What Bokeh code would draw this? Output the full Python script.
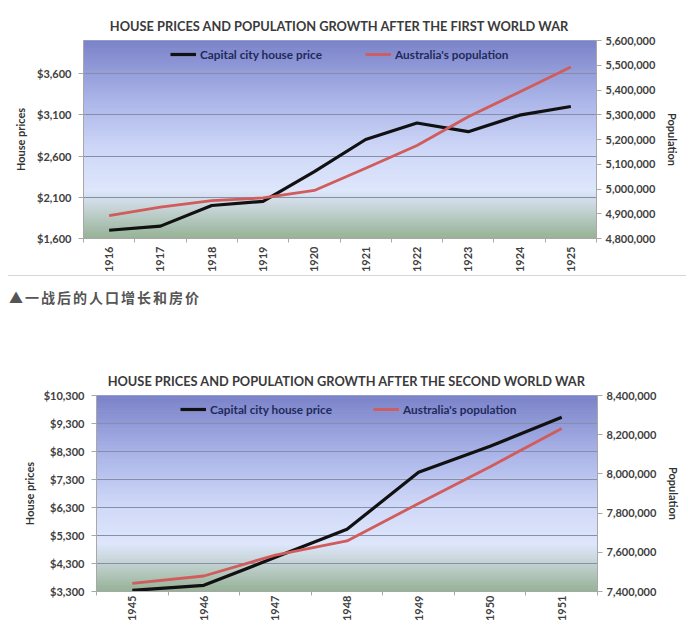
from bokeh.plotting import figure
from bokeh.models import (Range1d, LinearAxis, FixedTicker, NumeralTickFormatter,
                          Legend, LegendItem, Div)
from bokeh.layouts import column
from bokeh.embed import file_html
from bokeh.resources import INLINE

# ---------------- data ----------------
years_ww1 = [1916, 1917, 1918, 1919, 1920, 1921, 1922, 1923, 1924, 1925]
price_ww1 = [1700, 1750, 2000, 2050, 2410, 2800, 3000, 2895, 3095, 3200]
pop_ww1 = [4892000, 4927000, 4953000, 4964000, 4994000, 5084000, 5176000, 5292000, 5392000, 5493000]

years_ww2 = [1945, 1946, 1947, 1948, 1949, 1950, 1951]
price_ww2 = [3340, 3520, 4520, 5520, 7560, 8490, 9520]
pop_ww2 = [7441000, 7479000, 7586000, 7658000, 7849000, 8037000, 8232000]

price_ticks_ww1 = [1600, 2100, 2600, 3100, 3600]
pop_ticks_ww1 = [4800000, 4900000, 5000000, 5100000, 5200000, 5300000, 5400000, 5500000, 5600000]
price_ticks_ww2 = [3300, 4300, 5300, 6300, 7300, 8300, 9300, 10300]
pop_ticks_ww2 = [7400000, 7600000, 7800000, 8000000, 8200000, 8400000]

title_ww1 = "HOUSE PRICES AND POPULATION GROWTH AFTER THE FIRST WORLD WAR"
title_ww2 = "HOUSE PRICES AND POPULATION GROWTH AFTER THE SECOND WORLD WAR"
caption = "▲一战后的人口增长和房价"
label_price = "Capital city house price"
label_pop = "Australia's population"

FONT = "Lato"
TXT = "#404040"

STOPS = [(0.0, (122, 130, 200)), (0.30, (170, 180, 232)), (0.55, (206, 215, 247)),
         (0.76, (222, 230, 251)), (0.85, (198, 212, 214)), (1.0, (150, 178, 150))]


def grad_color(t):
    for (t0, c0), (t1, c1) in zip(STOPS[:-1], STOPS[1:]):
        if t <= t1:
            f = (t - t0) / (t1 - t0) if t1 > t0 else 0
            c = [int(round(a + (b - a) * f)) for a, b in zip(c0, c1)]
            return "#%02x%02x%02x" % tuple(c)
    return "#%02x%02x%02x" % STOPS[-1][1]


def make_chart(title, years, price, pop, price_ticks, pop_ticks, y_lo, y_hi, p_lo, p_hi,
               height, b_left, b_right, b_top, b_bottom, title_offset, leg1_x, leg2_x,
               left_label_standoff, x_standoff):
    x_lo, x_hi = years[0] - 0.5, years[-1] + 0.5
    p = figure(width=696, height=height, x_range=Range1d(x_lo, x_hi),
               y_range=Range1d(y_lo, y_hi), output_backend="svg", toolbar_location=None,
               min_border_left=b_left, min_border_right=b_right, min_border_top=b_top,
               min_border_bottom=b_bottom, x_axis_location=None, y_axis_location=None)
    p.frame_align = False
    p.title.text = title
    p.title.align = "center"
    p.title.text_font = FONT
    p.title.text_font_size = "12.8px"
    p.title.text_font_style = "bold"
    p.title.text_color = "#3a3a3a"
    p.title.offset = title_offset
    p.title.standoff = 14
    p.outline_line_color = "#c4c6d0"
    p.background_fill_color = "white"
    p.border_fill_color = "white"

    # background gradient
    n = 120
    span = y_hi - y_lo
    tops = [y_hi - i / n * span for i in range(n)]
    bots = [y_hi - (i + 1) / n * span for i in range(n)]
    cols = [grad_color((i + 0.5) / n) for i in range(n)]
    p.quad(left=x_lo, right=x_hi, top=tops, bottom=bots, fill_color=cols, line_color=cols,
           line_width=1, level="underlay")

    # grid
    p.xgrid.visible = False
    p.ygrid.ticker = FixedTicker(ticks=price_ticks)
    p.ygrid.grid_line_color = "#8590a8"
    p.ygrid.grid_line_width = 1

    # axes
    bounds = [y - 0.5 for y in years] + [years[-1] + 0.5]
    xax = LinearAxis(ticker=FixedTicker(ticks=years, minor_ticks=bounds))
    xax.major_label_overrides = {y: str(y) for y in years}
    xax.major_label_orientation = 1.5708
    xax.major_tick_out = 0
    xax.major_tick_in = 0
    xax.minor_tick_out = 4
    xax.minor_tick_in = 0
    xax.minor_tick_line_color = "#a8a8a8"
    xax.axis_line_color = "#a8a8a8"
    xax.major_label_standoff = x_standoff
    xax.major_label_text_font = FONT
    xax.major_label_text_font_style = "bold"
    xax.major_label_text_font_size = "11px"
    xax.major_label_text_color = TXT
    p.add_layout(xax, "below")

    lax = LinearAxis(ticker=FixedTicker(ticks=price_ticks),
                     formatter=NumeralTickFormatter(format="$0,0"))
    lax.axis_label = "House prices"
    lax.axis_label_text_font = FONT
    lax.axis_label_text_font_style = "bold"
    lax.axis_label_text_font_size = "11px"
    lax.axis_label_text_color = "#333333"
    lax.axis_label_standoff = left_label_standoff
    lax.major_tick_out = 5
    lax.major_tick_in = 0
    lax.minor_tick_out = 0
    lax.minor_tick_in = 0
    lax.major_tick_line_color = "#a8a8a8"
    lax.axis_line_color = "#a8a8a8"
    lax.major_label_standoff = 7
    lax.major_label_text_font = FONT
    lax.major_label_text_font_style = "bold"
    lax.major_label_text_font_size = "11px"
    lax.major_label_text_color = TXT
    p.add_layout(lax, "left")

    p.extra_y_ranges = {"pop": Range1d(p_lo, p_hi)}
    rax = LinearAxis(y_range_name="pop", ticker=FixedTicker(ticks=pop_ticks),
                     formatter=NumeralTickFormatter(format="0,0"))
    rax.axis_label = "Population"
    rax.axis_label_text_font = FONT
    rax.axis_label_text_font_style = "bold"
    rax.axis_label_text_font_size = "11px"
    rax.axis_label_text_color = "#333333"
    rax.axis_label_standoff = 8
    rax.major_tick_out = 5
    rax.major_tick_in = 0
    rax.minor_tick_out = 0
    rax.minor_tick_in = 0
    rax.major_tick_line_color = "#a8a8a8"
    rax.axis_line_color = "#a8a8a8"
    rax.major_label_standoff = 4
    rax.major_label_text_font = FONT
    rax.major_label_text_font_style = "bold"
    rax.major_label_text_font_size = "11px"
    rax.major_label_text_color = TXT
    p.add_layout(rax, "right")

    r1 = p.line(years, price, line_color="#111111", line_width=3.2, line_join="round")
    r2 = p.line(years, pop, y_range_name="pop", line_color="#d05c5c", line_width=2.8,
                line_join="round")

    fh = height - b_top - b_bottom
    for lab, r, lx in [(label_price, r1, leg1_x), (label_pop, r2, leg2_x)]:
        lg = Legend(items=[LegendItem(label=lab, renderers=[r])], location=(lx, fh - 25),
                    orientation="horizontal", background_fill_alpha=0, border_line_alpha=0,
                    padding=0, margin=0, glyph_width=26, glyph_height=20, label_height=20,
                    label_standoff=4, label_text_font=FONT, label_text_font_style="bold",
                    label_text_font_size="11.8px", label_text_color="#1f2a5c")
        p.add_layout(lg)
    return p


p1 = make_chart(title_ww1, years_ww1, price_ww1, pop_ww1, price_ticks_ww1, pop_ticks_ww1,
                1600, 4000, 4800000, 5600000, height=275, b_left=83, b_right=100,
                b_top=40, b_bottom=36, title_offset=-6, leg1_x=87, leg2_x=282,
                left_label_standoff=7, x_standoff=4)

div1 = Div(text=('<div style="border-top:1px solid #d6d6d6; margin:0 0 0 8px; width:678px;"></div>'
                 '<div style="padding:11px 0 0 9px; font-family:\'Noto Sans CJK SC\'; '
                 'font-size:14px; letter-spacing:2px; color:#555555; font-weight:bold; '
                 'white-space:nowrap;">' + caption + '</div>'),
           width=696, height=65, margin=0)

p2 = make_chart(title_ww2, years_ww2, price_ww2, pop_ww2, price_ticks_ww2, pop_ticks_ww2,
                3300, 10300, 7400000, 8400000, height=284, b_left=96, b_right=99,
                b_top=55, b_bottom=32, title_offset=2, leg1_x=84, leg2_x=277,
                left_label_standoff=5, x_standoff=0)

div2 = Div(text='<div style="border-top:1px solid #c8c8c8; margin:0 0 0 18px; width:668px;"></div>',
           width=696, height=9, margin=0)

layout = column(p1, div1, p2, div2, spacing=0)
open("out.html", "w").write(file_html(layout, INLINE))
